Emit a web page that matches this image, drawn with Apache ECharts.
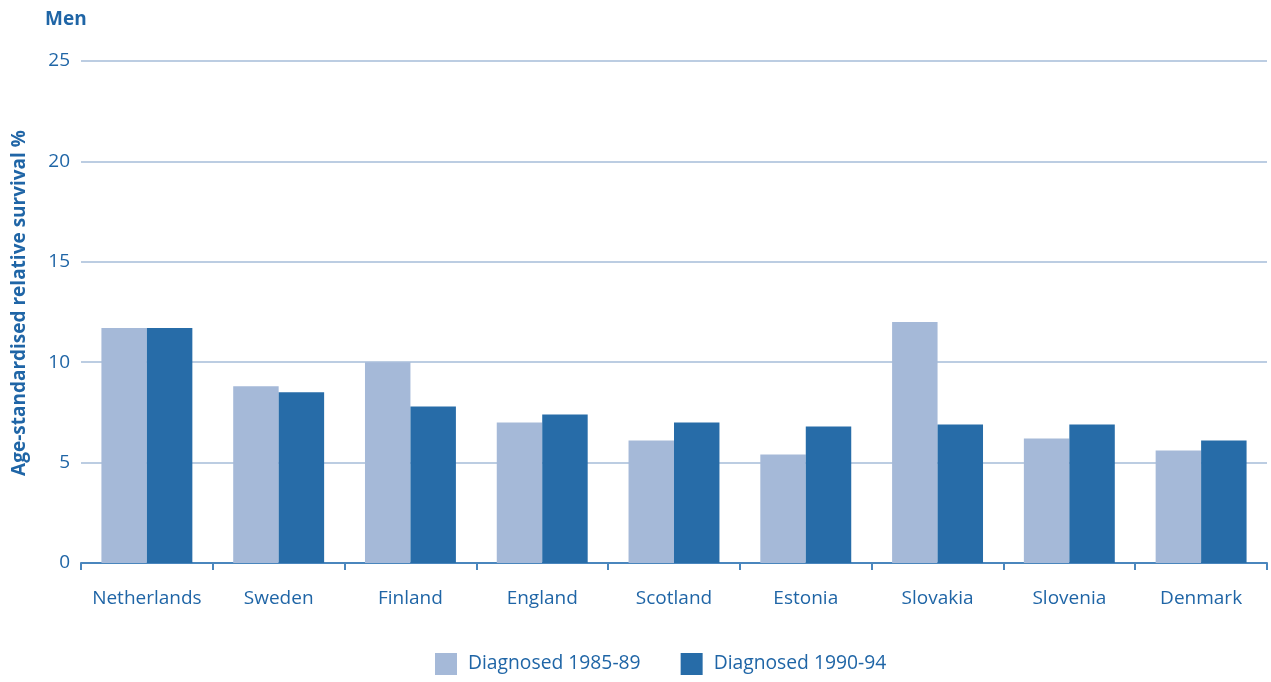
<!DOCTYPE html>
<html>
<head>
<meta charset="utf-8">
<script src="https://cdn.jsdelivr.net/npm/echarts@6/dist/echarts.min.js"></script>
<style>
  html, body { margin: 0; padding: 0; background: #fff; }
  #chart { width: 1271px; height: 682px; }
</style>
</head>
<body>
<div id="chart"></div>
<script>
// Five-year age-standardised relative survival, men, by country
const countries = ['Netherlands', 'Sweden', 'Finland', 'England', 'Scotland', 'Estonia', 'Slovakia', 'Slovenia', 'Denmark'];
const diagnosed1985_89 = [11.7, 8.8, 10.0, 7.0, 6.1, 5.4, 12.0, 6.2, 5.6];
const diagnosed1990_94 = [11.7, 8.5, 7.8, 7.4, 7.0, 6.8, 6.9, 6.9, 6.1];
const seriesNames = ['Diagnosed 1985-89', 'Diagnosed 1990-94'];

const textBlue = '#1f65a6';
const font = 'Open Sans';

const chart = echarts.init(document.getElementById('chart'), null, { renderer: 'canvas' });
chart.setOption({
  animation: false,
  title: {
    text: 'Men',
    left: 40,
    top: 5,
    textStyle: { color: textBlue, fontFamily: font, fontSize: 19, fontWeight: 'bold' }
  },
  grid: { left: 81, right: 4, top: 61, bottom: 119, containLabel: false },
  legend: {
    bottom: 2,
    left: 430,
    icon: 'rect',
    itemWidth: 22,
    itemHeight: 22,
    itemGap: 40,
    textStyle: { color: textBlue, fontFamily: font, fontSize: 19.3, padding: [0, 0, 0, 6] },
    data: seriesNames
  },
  xAxis: {
    type: 'category',
    data: countries,
    axisLine: { lineStyle: { color: '#4a86bd', width: 2 } },
    axisTick: { show: true, interval: 0, length: 7, lineStyle: { color: '#4a86bd', width: 2 } },
    axisLabel: { interval: 0, color: textBlue, fontFamily: font, fontSize: 19, margin: 26 }
  },
  yAxis: {
    type: 'value',
    min: 0,
    max: 25,
    interval: 5,
    name: 'Age-standardised relative survival %',
    nameLocation: 'middle',
    nameGap: 52,
    nameTextStyle: { color: textBlue, fontFamily: font, fontSize: 19, fontWeight: 'bold', padding: [0, 0, 0, 18] },
    axisLine: { show: false },
    axisTick: { show: false },
    axisLabel: { color: textBlue, fontFamily: font, fontSize: 19, margin: 11 },
    splitLine: { lineStyle: { color: '#a6bcd9', width: 1.5 } }
  },
  series: [
    {
      name: seriesNames[0],
      type: 'bar',
      data: diagnosed1985_89,
      barGap: '0%',
      barCategoryGap: '31%',
      itemStyle: { color: '#a5b9d8' }
    },
    {
      name: seriesNames[1],
      type: 'bar',
      data: diagnosed1990_94,
      barGap: '0%',
      barCategoryGap: '31%',
      itemStyle: { color: '#276ca8' }
    }
  ]
});
</script>
</body>
</html>
